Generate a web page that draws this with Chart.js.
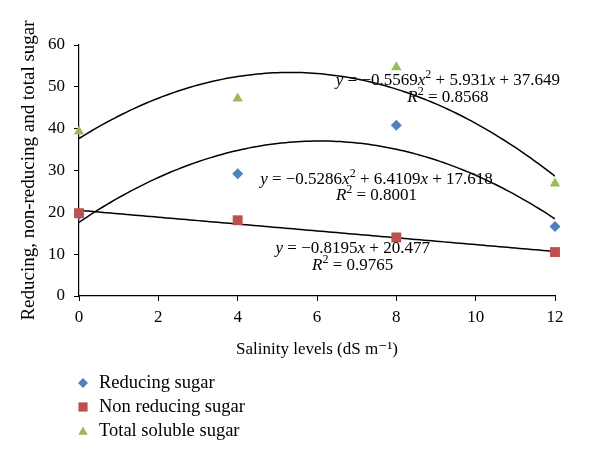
<!DOCTYPE html>
<html>
<head>
<meta charset="utf-8">
<script src="https://cdn.jsdelivr.net/npm/chart.js@4.4.1/dist/chart.umd.min.js"></script>
<style>
  html, body { margin: 0; padding: 0; background: #ffffff; }
  #wrap { width: 600px; height: 464px; position: relative; }
</style>
</head>
<body>
<div id="wrap"><canvas id="c" width="600" height="464"></canvas></div>
<script>
// ---- data ----
const salinity = [0, 4, 8, 12];
const reducingSugar = [19.5, 29.2, 40.8, 16.6];
const nonReducingSugar = [19.8, 18.1, 14.0, 10.5];
const totalSolubleSugar = [39.3, 47.2, 54.7, 26.9];

// trendline coefficients printed on the chart
const reducingFit = [-0.5286, 6.4109, 17.618];   // a x^2 + b x + c
const reducingR2 = 0.8001;
const totalFit = [-0.5569, 5.931, 37.649];
const totalR2 = 0.8568;
const nonReducingFit = [-0.8195, 20.477];        // m x + c
const nonReducingR2 = 0.9765;

const seriesNames = ["Reducing sugar", "Non reducing sugar", "Total soluble sugar"];
const xTicks = [0, 2, 4, 6, 8, 10, 12];
const yTicks = [0, 10, 20, 30, 40, 50, 60];

const FONT = '"Liberation Serif", "DejaVu Serif", serif';
const BLUE = '#4F81BD', RED = '#C0504D', GREEN = '#9BBB59';

function pts(xs, ys) { return xs.map((x, i) => ({ x: x, y: ys[i] })); }
function curve(fn) {
  const out = [];
  for (let i = 0; i <= 120; i++) { const x = i / 10; out.push({ x: x, y: fn(x) }); }
  return out;
}
const quad = c => x => c[0] * x * x + c[1] * x + c[2];
const lin = c => x => c[0] * x + c[1];

function fmt(v) { return (v < 0 ? '\u2212' : '') + String(Math.abs(v)); }
function signed(v) { return (v < 0 ? ' \u2212 ' : ' + ') + String(Math.abs(v)); }

function quadText(c) {
  return [{ t: 'y', i: true }, { t: ' = ' + fmt(c[0]) }, { t: 'x', i: true }, { t: '2', s: true },
          { t: signed(c[1]) }, { t: 'x', i: true }, { t: signed(c[2]) }];
}
function linText(c) {
  return [{ t: 'y', i: true }, { t: ' = ' + fmt(c[0]) }, { t: 'x', i: true }, { t: signed(c[1]) }];
}
function r2Text(r) { return [{ t: 'R', i: true }, { t: '2', s: true }, { t: ' = ' + r.toFixed(4) }]; }

// annotation anchors in data coordinates (centre x, baseline y)
const annotations = [
  { segs: quadText(totalFit), x: 9.3, y: 50.4 },
  { segs: r2Text(totalR2), x: 9.3, y: 46.3 },
  { segs: quadText(reducingFit), x: 7.5, y: 26.8 },
  { segs: r2Text(reducingR2), x: 7.5, y: 23.0 },
  { segs: linText(nonReducingFit), x: 6.9, y: 10.3 },
  { segs: r2Text(nonReducingR2), x: 6.9, y: 6.2 }
];

function drawRich(ctx, segs, cx, by, size) {
  const fontOf = s => (s.i ? 'italic ' : '') + (s.s ? Math.round(size * 0.68) : size) + 'px ' + FONT;
  let w = 0;
  segs.forEach(s => { ctx.font = fontOf(s); w += ctx.measureText(s.t).width; });
  let x = cx - w / 2;
  ctx.textAlign = 'left';
  ctx.textBaseline = 'alphabetic';
  ctx.fillStyle = '#000';
  segs.forEach(s => {
    ctx.font = fontOf(s);
    ctx.fillText(s.t, x, s.s ? by - size * 0.42 : by);
    x += ctx.measureText(s.t).width;
  });
}

const annotationPlugin = {
  id: 'annot',
  afterDatasetsDraw(chart) {
    const ctx = chart.ctx, xs = chart.scales.x, ys = chart.scales.y;
    ctx.save();
    annotations.forEach(a => drawRich(ctx, a.segs, xs.getPixelForValue(a.x), ys.getPixelForValue(a.y), 17));
    ctx.restore();
  }
};

const legendPlugin = {
  id: 'sideLegend',
  afterDraw(chart) {
    const ctx = chart.ctx;
    const items = [
      { name: seriesNames[0], style: 'rectRot', r: 5, color: BLUE },
      { name: seriesNames[1], style: 'rect', r: 6.5, color: RED },
      { name: seriesNames[2], style: 'triangle', r: 5.5, color: GREEN }
    ];
    ctx.save();
    items.forEach((it, i) => {
      const y = 383 + i * 24;
      ctx.fillStyle = it.color;
      ctx.strokeStyle = it.color;
      ctx.lineWidth = 0;
      Chart.helpers.drawPoint(ctx, { pointStyle: it.style, radius: it.r, borderWidth: 0 }, 83, y + (it.style === 'triangle' ? 1 : 0));
      ctx.fillStyle = '#000';
      ctx.font = '18.5px ' + FONT;
      ctx.textAlign = 'left';
      ctx.textBaseline = 'middle';
      ctx.fillText(it.name, 99, y);
    });
    ctx.restore();
  }
};

const lineDs = (data) => ({
  type: 'line', data: data, borderColor: '#000', borderWidth: 1.5,
  pointRadius: 0, fill: false, tension: 0, order: 5
});

new Chart(document.getElementById('c'), {
  type: 'scatter',
  data: {
    datasets: [
      { label: seriesNames[1], data: pts(salinity, nonReducingSugar), pointStyle: 'rect', pointRadius: 7,
        backgroundColor: RED, borderColor: RED, borderWidth: 0, order: 0, clip: false },
      { label: seriesNames[0], data: pts(salinity, reducingSugar), pointStyle: 'rectRot', pointRadius: 5.5,
        backgroundColor: BLUE, borderColor: BLUE, borderWidth: 0, order: 1, clip: false },
      { label: seriesNames[2], data: pts(salinity, totalSolubleSugar), pointStyle: 'triangle', pointRadius: 6,
        backgroundColor: GREEN, borderColor: GREEN, borderWidth: 0, order: 2, clip: false },
      lineDs(curve(quad(totalFit))),
      lineDs(curve(quad(reducingFit))),
      lineDs(curve(lin(nonReducingFit)))
    ]
  },
  options: {
    responsive: false,
    animation: false,
    devicePixelRatio: 1,
    layout: { padding: { top: 45, right: 45, bottom: 98, left: 0 } },
    plugins: { legend: { display: false }, tooltip: { enabled: false } },
    scales: {
      x: {
        type: 'linear', min: 0, max: 12,
        afterBuildTicks: s => { s.ticks = xTicks.map(v => ({ value: v })); },
        afterFit: s => { s.height = 70; },
        grid: { drawOnChartArea: false, tickLength: 5, color: '#000', tickColor: '#000' },
        border: { color: '#000', width: 1.2 },
        ticks: { color: '#000', font: { family: FONT, size: 17 }, padding: 6, maxRotation: 0 },
        title: { display: true, text: 'Salinity levels (dS m\u207B\u00B9)', color: '#000',
                 font: { family: FONT, size: 17 }, padding: { top: 0, bottom: 6 } }
      },
      y: {
        type: 'linear', min: 0, max: 60,
        afterBuildTicks: s => { s.ticks = yTicks.map(v => ({ value: v })); },
        afterFit: s => { s.width = 79; },
        grid: { drawOnChartArea: false, tickLength: 5, color: '#000', tickColor: '#000' },
        border: { color: '#000', width: 1.2 },
        ticks: { color: '#000', font: { family: FONT, size: 17 }, padding: 9 },
        title: { display: true, text: 'Reducing, non-reducing and total sugar', color: '#000',
                 font: { family: FONT, size: 19 }, padding: { top: 18, bottom: 0 } }
      }
    }
  },
  plugins: [annotationPlugin, legendPlugin]
});
</script>
</body>
</html>
